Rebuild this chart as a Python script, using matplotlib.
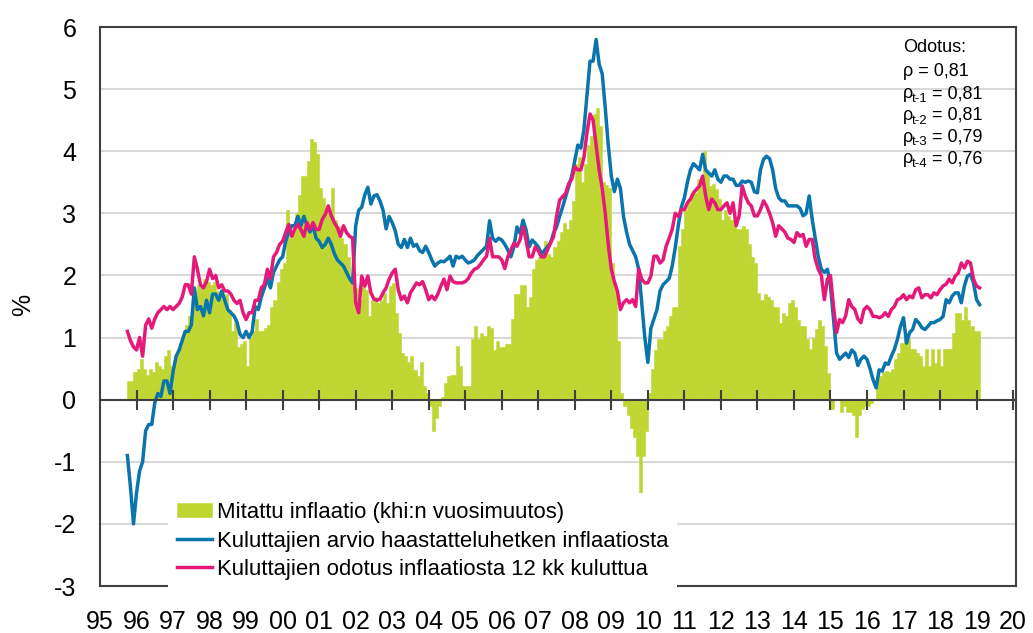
import numpy as np
import matplotlib
matplotlib.use("Agg")
import matplotlib.pyplot as plt

plt.rcParams['font.family'] = ['Liberation Sans', 'DejaVu Sans']

# ---------------------------------------------------------------------------
# Data: monthly values, first month Oct 1995
# ---------------------------------------------------------------------------
START_YEAR = 1995
START_MONTH = 10

# Mitattu inflaatio (khi:n vuosimuutos), Oct 1995 - Jan 2019
measured = [
    0.3, 0.3, 0.45,
    0.5, 0.65, 0.5, 0.4, 0.5, 0.45, 0.6, 0.55, 0.5, 0.7, 0.8, 0.55,
    0.6, 0.75, 0.9, 1.0, 1.2, 1.35, 1.5, 1.75, 1.85, 1.8, 1.95, 1.9,
    1.85, 1.9, 1.75, 1.7, 1.6, 1.7, 1.45, 1.1, 1.3, 0.85, 0.9, 0.95,
    0.55, 1.0, 1.1, 1.3, 1.1, 1.1, 1.15, 1.2, 1.5, 1.6, 1.9, 2.1,
    2.2, 3.05, 2.6, 2.7, 3.0, 3.3, 3.6, 3.6, 3.85, 4.2, 4.15, 3.95,
    3.4, 3.25, 3.1, 3.0, 3.4, 2.9, 2.8, 2.6, 2.5, 2.3, 1.9, 1.65,
    1.8, 1.6, 1.85, 1.77, 1.34, 1.6, 1.65, 1.56, 1.6, 1.72, 1.56, 1.83,
    1.88, 1.4, 1.08, 0.75, 0.7, 0.6, 0.7, 0.48, 0.38, 0.6, 0.22, 0.1,
    -0.1, -0.5, -0.3, -0.1, 0.05, 0.27, 0.38, 0.4, 0.4, 0.86, 0.54, 0.22,
    0.22, 0.22, 0.97, 1.18, 0.97, 1.08, 1.02, 1.18, 1.15, 0.8, 0.95, 0.85,
    0.85, 0.9, 0.9, 1.3, 1.7, 1.7, 1.85, 1.85, 1.5, 1.65, 2.1, 2.25,
    2.3, 2.4, 2.55, 2.35, 2.3, 2.45, 2.55, 2.7, 2.85, 2.75, 2.9, 3.2,
    3.8, 3.9, 3.5, 3.8, 4.1, 4.25, 4.6, 4.7, 4.4, 3.5, 3.45, 3.4,
    2.2, 1.8, 0.95, 0.1, -0.1, -0.25, -0.45, -0.6, -0.9, -1.5, -0.9, -0.5,
    0.1, 0.5, 0.8, 0.97, 0.97, 1.1, 1.18, 1.34, 1.5, 1.5, 2.47, 2.74,
    3.06, 3.17, 3.33, 3.33, 3.55, 3.55, 4.0, 3.66, 3.44, 3.47, 3.39, 3.23,
    2.9, 3.05, 2.95, 2.9, 2.9, 2.75, 2.75, 2.8, 2.75, 2.5, 2.3, 2.2,
    1.72, 1.61, 1.7, 1.65, 1.6, 1.5, 1.5, 1.24, 1.4, 1.35, 1.55, 1.61,
    1.5, 1.29, 1.18, 1.18, 0.97, 0.81, 1.0, 1.13, 1.29, 1.18, 0.86, 0.43,
    -0.15, 0.0, 0.0, -0.2, -0.1, -0.2, -0.2, -0.25, -0.6, -0.25, -0.15, -0.1,
    -0.1, -0.05, 0.0, 0.32, 0.38, 0.45, 0.46, 0.45, 0.5, 0.65, 0.75, 0.91,
    1.05, 0.97, 0.81, 0.81, 0.75, 0.7, 0.54, 0.81, 0.54, 0.81, 0.59, 0.81,
    0.55, 0.81, 0.81, 0.81, 1.08, 1.4, 1.4, 1.29, 1.5, 1.29, 1.18, 1.1,
    1.1,
]

# Kuluttajien arvio haastatteluhetken inflaatiosta, Oct 1995 - Feb 2019
perceived = [
    -0.9, -1.4, -2.0,
    -1.5, -1.15, -1.0, -0.5, -0.4, -0.4, -0.05, 0.1, 0.05, 0.3, 0.3, 0.1,
    0.45, 0.7, 0.8, 0.95, 1.1, 1.1, 1.2, 1.8, 1.45, 1.5, 1.35, 1.6,
    1.4, 1.7, 1.7, 1.6, 1.75, 1.6, 1.45, 1.4, 1.35, 1.25, 1.05, 1.0,
    1.1, 1.0, 1.1, 1.5, 1.45, 1.65, 1.8, 1.95, 1.8, 2.05, 2.15, 2.25,
    2.3, 2.55, 2.7, 2.8, 2.8, 2.95, 2.8, 2.95, 2.8, 2.7, 2.8, 2.6,
    2.55, 2.45, 2.5, 2.6, 2.5, 2.35, 2.25, 2.2, 2.15, 2.05, 1.95, 1.88,
    2.8, 3.05, 3.1, 3.3, 3.42, 3.15, 3.28, 3.3, 3.2, 3.05, 2.75, 2.95,
    2.85, 2.72, 2.5, 2.45, 2.58, 2.45, 2.6, 2.47, 2.5, 2.4, 2.37, 2.47,
    2.37, 2.25, 2.15, 2.2, 2.23, 2.22, 2.26, 2.31, 2.15, 2.31, 2.28, 2.31,
    2.25, 2.2, 2.22, 2.25, 2.32, 2.37, 2.42, 2.47, 2.88, 2.6, 2.55, 2.6,
    2.57, 2.5, 2.41, 2.3, 2.46, 2.78, 2.68, 2.89, 2.73, 2.46, 2.57, 2.52,
    2.46, 2.35, 2.4, 2.46, 2.52, 2.68, 2.78, 2.95, 3.1, 3.27, 3.43, 3.6,
    3.85, 4.1, 4.05, 4.35, 4.9, 5.45, 5.45, 5.8, 5.4, 5.25, 4.7, 4.1,
    3.6, 3.35, 3.55, 3.4, 2.95, 2.7, 2.5, 2.4, 2.3, 2.1, 1.55, 1.0,
    0.6, 1.15, 1.3, 1.45, 1.75, 1.85, 1.9, 1.95, 2.15, 2.45, 2.8, 3.1,
    3.25, 3.5, 3.7, 3.8, 3.75, 3.7, 3.95, 3.7, 3.65, 3.6, 3.7, 3.55,
    3.5, 3.6, 3.6, 3.55, 3.55, 3.45, 3.45, 3.52, 3.5, 3.52, 3.5, 3.35,
    3.33, 3.7, 3.87, 3.92, 3.88, 3.7, 3.4, 3.25, 3.2, 3.2, 3.12, 3.12,
    3.12, 3.12, 3.08, 2.96, 3.0, 3.28, 2.9, 2.6, 2.3, 2.1, 2.05, 2.1,
    1.83, 1.3, 0.75, 0.65, 0.7, 0.75, 0.68, 0.8, 0.75, 0.55, 0.65, 0.7,
    0.65, 0.5, 0.32, 0.19, 0.48, 0.46, 0.59, 0.57, 0.7, 0.81, 0.97, 1.18,
    1.32, 0.91, 1.08, 1.13, 1.29, 1.24, 1.16, 1.13, 1.18, 1.24, 1.24, 1.27,
    1.29, 1.34, 1.61, 1.56, 1.67, 1.72, 1.72, 1.56, 1.83, 1.99, 2.02, 1.88,
    1.61, 1.53,
]

# Kuluttajien odotus inflaatiosta 12 kk kuluttua, Oct 1995 - Feb 2019
expected = [
    1.1, 0.95, 0.85,
    0.8, 1.0, 0.7, 1.2, 1.3, 1.15, 1.3, 1.4, 1.45, 1.5, 1.45, 1.5,
    1.45, 1.5, 1.55, 1.65, 1.85, 1.85, 1.7, 2.3, 2.1, 1.85, 1.8, 1.9,
    2.1, 1.95, 2.0, 1.8, 1.85, 1.75, 1.75, 1.7, 1.6, 1.55, 1.6, 1.4,
    1.29, 1.4, 1.4, 1.6, 1.6, 1.8, 1.85, 2.1, 1.95, 2.3, 2.37, 2.5,
    2.55, 2.69, 2.82, 2.63, 2.75, 2.82, 2.74, 2.63, 2.85, 2.74, 2.85, 2.74,
    2.74, 2.9, 2.98, 3.12, 2.96, 2.85, 2.77, 2.63, 2.8, 2.69, 2.63, 2.6,
    1.56, 1.4, 1.99, 1.83, 1.99, 1.72, 1.62, 1.6, 1.62, 1.72, 1.8, 1.94,
    2.04, 2.1, 1.77, 1.61, 1.67, 1.56, 1.72, 1.8, 1.88, 1.85, 1.9, 1.77,
    1.61, 1.67, 1.61, 1.7, 1.83, 1.94, 1.77, 1.99, 1.9, 1.88, 1.88, 1.88,
    1.9, 1.95, 2.04, 2.1, 2.12, 2.18, 2.25, 2.31, 2.6, 2.3, 2.3, 2.3,
    2.25, 2.11, 2.3, 2.41, 2.52, 2.47, 2.57, 2.78, 2.57, 2.3, 2.3, 2.46,
    2.4, 2.3, 2.3, 2.41, 2.52, 2.62, 2.95, 3.21, 3.27, 3.32, 3.48, 3.55,
    3.75, 3.7, 3.7, 3.9, 4.3, 4.6, 4.5, 4.1, 3.7, 3.4, 3.0, 2.5,
    2.1, 1.9, 1.75, 1.45, 1.56, 1.61, 1.56, 1.61, 1.5, 2.1, 1.94, 1.88,
    1.88, 1.99, 2.31, 2.31, 2.2, 2.25, 2.47, 2.6, 2.74, 3.0, 2.95, 3.06,
    3.06, 3.17, 3.23, 3.33, 3.39, 3.44, 3.6, 3.28, 3.06, 3.23, 3.17, 3.06,
    3.06, 3.12, 3.17, 3.0, 3.17, 2.8, 2.96, 3.44, 3.28, 3.17, 3.12, 2.96,
    2.96, 3.06, 3.2, 3.12, 3.0, 2.85, 2.63, 2.8, 2.75, 2.7, 2.6, 2.58,
    2.53, 2.69, 2.63, 2.66, 2.47, 2.58, 2.58, 2.26, 2.1, 2.0, 1.61, 1.94,
    2.0, 1.5, 1.08, 1.29, 1.24, 1.35, 1.61, 1.5, 1.45, 1.3, 1.24, 1.45,
    1.5, 1.45, 1.34, 1.34, 1.32, 1.34, 1.4, 1.34, 1.45, 1.5, 1.61, 1.63,
    1.69, 1.61, 1.67, 1.64, 1.77, 1.8, 1.64, 1.69, 1.69, 1.64, 1.72, 1.69,
    1.77, 1.83, 1.86, 1.94, 1.88, 1.99, 2.04, 2.2, 2.12, 2.23, 2.2, 1.94,
    1.83, 1.8,
]

years = list(range(1995, 2021))
year_labels = [f"{y % 100:02d}" for y in years]
y_ticks = list(range(-3, 7))

labels = [
    "Mitattu inflaatio (khi:n vuosimuutos)",
    "Kuluttajien arvio haastatteluhetken inflaatiosta",
    "Kuluttajien odotus inflaatiosta 12 kk kuluttua",
]
note_title = "Odotus:"
corr_main = "0,81"
corr_lags = ["t-1", "t-2", "t-3", "t-4"]
corr_vals = ["0,81", "0,81", "0,79", "0,76"]

GREEN = "#bfd630"
BLUE = "#0a74ad"
PINK = "#e5197a"
AXIS = "#404040"

W, H = 1033, 633


def month_axis(n):
    start = START_YEAR + (START_MONTH - 1) / 12.0
    return start + np.arange(n) / 12.0


def fx(px):
    return px / W


def fy(py):
    return 1 - py / H


fig = plt.figure(figsize=(W / 100, H / 100), dpi=100)
ax = fig.add_axes([fx(100), fy(586), (1016 - 100) / W, (586 - 27) / H])

t_bar = month_axis(len(measured))
t_line = month_axis(len(perceived))

bars = ax.bar(t_bar, measured, width=1 / 12, align="edge", color=GREEN,
              edgecolor=GREEN, linewidth=0.4, zorder=2)
line_b, = ax.plot(t_line, perceived, color=BLUE, lw=2.5, zorder=3)
line_p, = ax.plot(t_line, expected, color=PINK, lw=2.5, zorder=4)

ax.set_xlim(1995, 2020.08)
ax.set_ylim(-3, 6)
ax.set_yticks(y_ticks)
ax.set_yticklabels([str(v) for v in y_ticks])
ax.set_xticks(years)
ax.set_xticklabels(year_labels)
ax.tick_params(axis="both", length=0, labelsize=18, colors="black")
ax.tick_params(axis="y", pad=17)
ax.tick_params(axis="x", pad=17)

ax.yaxis.grid(True, color="#d9d9d9", lw=1.5)
ax.set_axisbelow(True)
for sp in ax.spines.values():
    sp.set_color(AXIS)
    sp.set_linewidth(1.5)

# zero line with cross ticks
zero_ax = ax.secondary_xaxis(3 / 9)
zero_ax.set_xticks(years[1:])
zero_ax.tick_params(direction="inout", length=14, width=1.5, color=AXIS,
                    labelbottom=False, labeltop=False)
for sp in zero_ax.spines.values():
    sp.set_color(AXIS)
    sp.set_linewidth(1.5)
zero_ax.set_zorder(5)

fig.text(fx(23), fy(305), "%", rotation=90, ha="center", va="center",
         fontsize=18)

leg = ax.legend([bars, line_b, line_p], labels,
                loc="center left", bbox_to_anchor=(fx(168), fy(541)),
                bbox_transform=fig.transFigure, fontsize=15.9,
                frameon=True, facecolor="white", edgecolor="none",
                framealpha=1, fancybox=False, borderaxespad=0,
                handlelength=1.6, handleheight=0.6, handletextpad=0.22,
                labelspacing=0.33, borderpad=0.4)
leg.set_zorder(6)

# correlation note
fs = 13
fig.text(fx(903), fy(48), note_title, fontsize=fs, va="center")
fig.text(fx(903), fy(71), "\u03c1 = " + corr_main, fontsize=fs, va="center")
for i, (lag, val) in enumerate(zip(corr_lags, corr_vals)):
    yy = 94 + i * 21.5
    fig.text(fx(903), fy(yy), "\u03c1", fontsize=fs, va="center")
    fig.text(fx(912), fy(yy + 5), lag, fontsize=9.5, va="center")
    fig.text(fx(932), fy(yy), "= " + val, fontsize=fs, va="center")

fig.savefig("out.png", dpi=100)
